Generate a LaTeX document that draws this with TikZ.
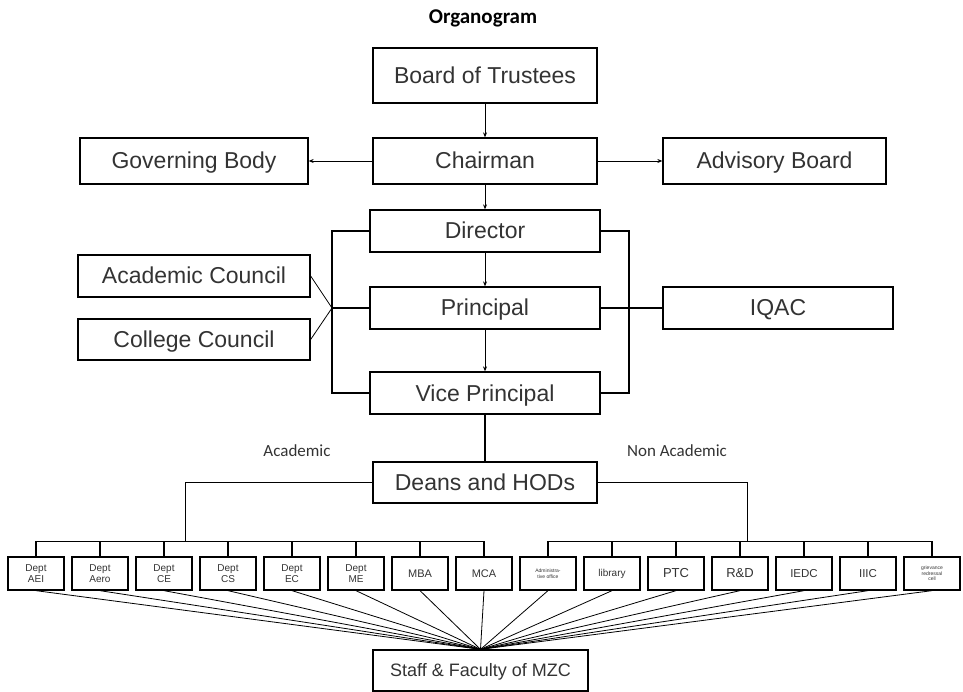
\documentclass[tikz,border=0pt]{standalone}
\usepackage{fontspec}
\setmainfont{Liberation Sans}
\newfontfamily\calibfont{Carlito}
\usetikzlibrary{arrows.meta,calc}
\definecolor{boxtext}{HTML}{333333}

\begin{document}
\begin{tikzpicture}[x=1pt,y=-1pt,>={Stealth[length=5pt,width=4pt]},
    box/.style={draw,line width=1.3pt,minimum width=224pt,minimum height=42pt,inner sep=0pt,text=boxtext,text height=16.5pt,text depth=0.5pt,font=\fontsize{23}{26}\selectfont},
    dept/.style={draw,line width=1.3pt,minimum width=56pt,minimum height=33pt,inner sep=0pt,align=center,text=boxtext},
    link/.style={line width=0.8pt},
    heavy/.style={line width=1.8pt}]
    \useasboundingbox (0,0) rectangle (963,692);
    \node[font=\calibfont\bfseries\fontsize{21}{24}\selectfont] (title) at (483,18) {Organogram};
    % top of the chart
    \node[box,minimum height=55pt] (trustees) at (485,75.5) {Board of Trustees};
    \node[box,minimum height=46pt] (chairman) at (485,161) {Chairman};
    \node[box,minimum height=46pt,minimum width=228pt] (governing) at (194,161) {Governing Body};
    \node[box,minimum height=46pt,minimum width=223pt] (advisory) at (774.5,161) {Advisory Board};
    \node[box,minimum width=230pt] (director) at (485,231) {Director};
    \node[box,minimum width=230pt] (principal) at (485,308) {Principal};
    \node[box,minimum width=230pt] (vice) at (485,393) {Vice Principal};
    \node[box,minimum width=232pt] (acouncil) at (194,276) {Academic Council};
    \node[box,minimum width=232pt,minimum height=41pt] (ccouncil) at (194,339.5) {College Council};
    \node[box,minimum width=230pt] (iqac) at (778,308) {IQAC};
    \node[box,minimum height=41pt] (deans) at (485,482.5) {Deans and HODs};
    \node[box,minimum width=215pt,minimum height=41pt,text height=13pt,text depth=0.5pt,font=\fontsize{18}{21}\selectfont] (staff) at (480.5,670.5) {Staff \& Faculty of MZC};
    \node[font=\calibfont\fontsize{17}{20}\selectfont,text=boxtext] (acad) at (297,451) {Academic};
    \node[font=\calibfont\fontsize{17}{20}\selectfont,text=boxtext] (nonacad) at (677,451) {Non Academic};
    \coordinate (lb) at (332,308);
    \coordinate (rb) at (629,308);
    \coordinate (lbus) at (185,541);
    \coordinate (rbus) at (747,541);
    % departments
    \foreach \name/\fs/\bs/\txt [count=\i from 0] in {aei/10/11/{Dept\\AEI},aero/10/11/{Dept\\Aero},ce/10/11/{Dept\\CE},cs/10/11/{Dept\\CS},ec/10/11/{Dept\\EC},me/10/11/{Dept\\ME},mba/11/12/{MBA},mca/11/12/{MCA},adm/5/5.5/{Administra-\\tive office},lib/10/11/{library},ptc/13/14/{PTC},rd/13/14/{R\&D},iedc/11.5/12/{IEDC},iiic/11.5/12/{IIIC},griev/5/5.5/{grievance\\redressal\\cell}}
        \node[dept,font=\fontsize{\fs}{\bs}\selectfont] (\name) at ({36+64*\i},573.5) {\txt};
    \begin{scope}[link,->]
        \draw (trustees) -- (chairman);
        \draw (chairman) -- (governing);
        \draw (chairman) -- (advisory);
        \draw (chairman.south) -- (director.north);
        \draw (director.south) -- (principal.north);
        \draw (principal.south) -- (vice.north);
    \end{scope}
    \draw[heavy] (director.west) -| (lb) |- (vice.west);
    \draw[heavy] (principal.west) -- (lb);
    \draw[link] (acouncil.east) -- (lb);
    \draw[link] (ccouncil.east) -- (lb);
    \draw[line width=1.3pt] (director.east) -| (rb) |- (vice.east);
    \draw[heavy] (principal.east) -- (iqac.west);
    \draw[heavy] (vice.south) -- (deans.north);
    \draw[link] (deans.west) -| (lbus);
    \draw[link] (deans.east) -| (rbus);
    \draw[link] (aei.north |- lbus) -- (mca.north |- lbus);
    \draw[link] (adm.north |- rbus) -- (griev.north |- rbus);
    \foreach \name in {aei,aero,ce,cs,ec,me,mba,mca}
        \draw[heavy] (\name.north |- lbus) -- (\name.north);
    \foreach \name in {adm,lib,ptc,rd,iedc,iiic,griev}
        \draw[heavy] (\name.north |- rbus) -- (\name.north);
    \foreach \name in {aei,aero,ce,cs,ec,me,mba,mca,adm,lib,ptc,rd,iedc,iiic,griev}
        \draw[link] (\name.south) -- (staff.north);
\end{tikzpicture}
\end{document}
